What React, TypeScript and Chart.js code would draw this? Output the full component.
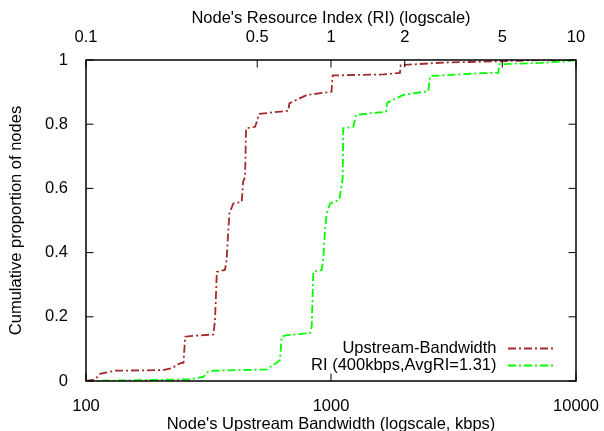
import { useEffect, useRef } from "react";
import { Chart, registerables } from "chart.js";

Chart.register(...registerables);

// Upstream bandwidth CDF (kbps on bottom log axis)
const bandwidthKbps = [100, 109, 114, 131, 206, 224, 242, 250, 254, 266, 331, 336, 342, 369, 375, 381, 385, 399, 432, 438, 446, 450, 490, 498, 508, 670, 676, 796, 1005, 1016, 1635, 1912, 1925, 2873, 4898, 7128, 10000];
const bandwidthCdf = [0, 0.005, 0.022, 0.032, 0.034, 0.04, 0.055, 0.057, 0.138, 0.14, 0.145, 0.186, 0.34, 0.346, 0.377, 0.47, 0.522, 0.553, 0.558, 0.621, 0.636, 0.787, 0.792, 0.808, 0.832, 0.842, 0.865, 0.891, 0.901, 0.952, 0.955, 0.96, 0.984, 0.992, 0.996, 1.0, 1.0];

// Resource index CDF (RI on top log axis)
const riValues = [0.1, 0.2657, 0.301, 0.3155, 0.3308, 0.5465, 0.6, 0.619, 0.629, 0.659, 0.821, 0.834, 0.847, 0.916, 0.93, 0.945, 0.96, 0.991, 1.081, 1.116, 1.122, 1.233, 1.265, 1.677, 1.697, 1.973, 2.495, 2.535, 4.121, 4.818, 4.864, 7.129, 9.162, 10];
const riCdf = [0, 0.005, 0.013, 0.029, 0.032, 0.036, 0.057, 0.065, 0.138, 0.143, 0.149, 0.169, 0.34, 0.346, 0.377, 0.47, 0.522, 0.553, 0.564, 0.631, 0.787, 0.792, 0.829, 0.839, 0.867, 0.891, 0.903, 0.95, 0.959, 0.96, 0.987, 0.991, 0.996, 1.0];

const bottomTicks = [100, 1000, 10000];
const bottomTickLabels = ["100", "1000", "10000"];
const topTicks = [0.1, 0.5, 1, 2, 5, 10];
const topTickLabels = ["0.1", "0.5", "1", "2", "5", "10"];
const yTicks = [0, 0.2, 0.4, 0.6, 0.8, 1];
const yTickLabels = ["0", "0.2", "0.4", "0.6", "0.8", "1"];

const seriesLabels = ["Upstream-Bandwidth", "RI (400kbps,AvgRI=1.31)"];
const seriesColors = ["#a52a2a", "#00ff00"];

const FAMILY = "'Liberation Sans', Arial, sans-serif";
const FSIZE = 16.5;
const DASH = [8, 3, 2, 3];
const LW = 1.8;

export default function App() {
  const ref = useRef<HTMLCanvasElement>(null);

  useEffect(() => {
    document.body.style.margin = "0";
    const canvas = ref.current;
    if (!canvas) return;

    const framePlugin = {
      id: "gnuFrame",
      afterDatasetsDraw(chart: any) {
        const c = chart.ctx as CanvasRenderingContext2D;
        const a = chart.chartArea;
        const sx = chart.scales.x;
        const sx2 = chart.scales.x2;
        const sy = chart.scales.y;
        const T = 7.5;
        c.save();
        c.setLineDash([]);
        c.strokeStyle = "#000";
        c.lineWidth = 1;
        c.beginPath();
        for (const v of yTicks) {
          const p = sy.getPixelForValue(v);
          c.moveTo(a.left, p);
          c.lineTo(a.left + T, p);
          c.moveTo(a.right, p);
          c.lineTo(a.right - T, p);
        }
        for (const v of bottomTicks) {
          const p = sx.getPixelForValue(v);
          c.moveTo(p, a.bottom);
          c.lineTo(p, a.bottom - T);
        }
        for (const v of topTicks) {
          const p = sx2.getPixelForValue(v);
          c.moveTo(p, a.top);
          c.lineTo(p, a.top + T);
        }
        c.stroke();
        c.lineWidth = 1.5;
        c.strokeRect(a.left, a.top, a.right - a.left, a.bottom - a.top);

        // legend (gnuplot style: text right-aligned, then line sample)
        c.font = `${FSIZE}px ${FAMILY}`;
        c.textAlign = "right";
        c.textBaseline = "middle";
        seriesLabels.forEach((lab, i) => {
          const y = a.bottom - 32.5 + i * 17;
          c.fillStyle = "#000";
          c.fillText(lab, a.right - 79.5, y);
          c.strokeStyle = seriesColors[i];
          c.lineWidth = LW;
          c.setLineDash(DASH);
          c.beginPath();
          c.moveTo(a.right - 68, y);
          c.lineTo(a.right - 21, y);
          c.stroke();
        });
        c.restore();
      },
    };

    const font = { family: FAMILY, size: FSIZE };

    const chart = new Chart(canvas, {
      type: "line",
      data: {
        datasets: [
          {
            label: seriesLabels[0],
            data: bandwidthKbps.map((x, i) => ({ x, y: bandwidthCdf[i] })),
            xAxisID: "x",
            yAxisID: "y",
            borderColor: seriesColors[0],
            borderWidth: LW,
            borderDash: DASH,
            pointRadius: 0,
            tension: 0,
            fill: false,
            order: 1,
          },
          {
            label: seriesLabels[1],
            data: riValues.map((x, i) => ({ x, y: riCdf[i] })),
            xAxisID: "x2",
            yAxisID: "y",
            borderColor: seriesColors[1],
            borderWidth: LW,
            borderDash: DASH,
            pointRadius: 0,
            tension: 0,
            fill: false,
            order: 0,
          },
        ],
      },
      options: {
        animation: false,
        responsive: false,
        devicePixelRatio: 1,
        layout: { padding: { left: 0, right: 28, top: 0, bottom: 0 } },
        plugins: {
          legend: { display: false },
          tooltip: { enabled: false },
        },
        scales: {
          x: {
            type: "logarithmic",
            position: "bottom",
            min: 100,
            max: 10000,
            grid: { display: false },
            border: { display: false },
            ticks: {
              autoSkip: false,
              maxRotation: 0,
              minRotation: 0,
              padding: 7.5,
              color: "#000",
              font,
              callback: (_v: any, i: number) => bottomTickLabels[i],
            },
            afterBuildTicks: (s: any) => {
              s.ticks = bottomTicks.map((v) => ({ value: v }));
            },
            afterFit: (s: any) => {
              s.height = 50;
              s.paddingLeft = 0;
              s.paddingRight = 0;
            },
            title: {
              display: true,
              text: "Node's Upstream Bandwidth (logscale, kbps)",
              color: "#000",
              font,
              padding: { top: 0, bottom: -3 },
            },
          },
          x2: {
            type: "logarithmic",
            position: "top",
            min: 0.1,
            max: 10,
            grid: { display: false },
            border: { display: false },
            ticks: {
              autoSkip: false,
              maxRotation: 0,
              minRotation: 0,
              padding: 5,
              color: "#000",
              font,
              callback: (_v: any, i: number) => topTickLabels[i],
            },
            afterBuildTicks: (s: any) => {
              s.ticks = topTicks.map((v) => ({ value: v }));
            },
            afterFit: (s: any) => {
              s.height = 60;
              s.paddingLeft = 0;
              s.paddingRight = 0;
            },
            title: {
              display: true,
              text: "Node's Resource Index (RI) (logscale)",
              color: "#000",
              font,
              padding: { top: 9, bottom: 0 },
            },
          },
          y: {
            type: "linear",
            position: "left",
            min: 0,
            max: 1,
            grid: { display: false },
            border: { display: false },
            ticks: {
              autoSkip: false,
              padding: 10,
              color: "#000",
              font,
              callback: (_v: any, i: number) => yTickLabels[i],
            },
            afterBuildTicks: (s: any) => {
              s.ticks = yTicks.map((v) => ({ value: v }));
            },
            afterFit: (s: any) => {
              s.width = 86;
              s.paddingTop = 0;
              s.paddingBottom = 0;
            },
            title: {
              display: true,
              text: "Cumulative proportion of nodes",
              color: "#000",
              font,
              padding: { top: 7, bottom: 0 },
            },
          },
        },
      },
      plugins: [framePlugin],
    } as any);

    return () => chart.destroy();
  }, []);

  return (
    <div style={{ width: 604, height: 431, background: "#fff" }}>
      <canvas ref={ref} width={604} height={431} style={{ display: "block" }} />
    </div>
  );
}
